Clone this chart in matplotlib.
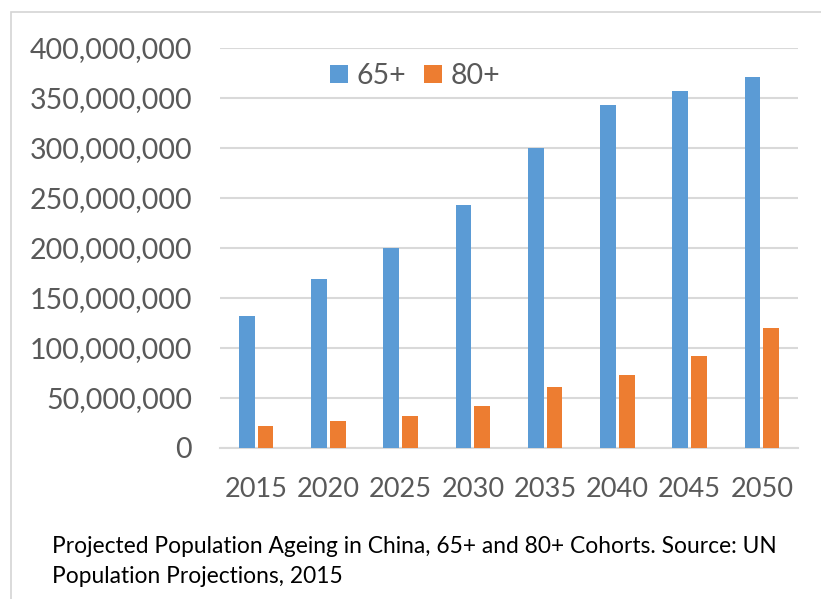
import matplotlib
matplotlib.use("Agg")
import matplotlib.pyplot as plt
from matplotlib.patches import Rectangle
from matplotlib.ticker import FuncFormatter
import numpy as np

years = ["2015", "2020", "2025", "2030", "2035", "2040", "2045", "2050"]
pop_65 = [132e6, 169e6, 200e6, 243e6, 300e6, 343e6, 357e6, 371e6]
pop_80 = [22e6, 27e6, 32e6, 42e6, 61e6, 73e6, 92e6, 120e6]
series_names = ["65+", "80+"]
y_ticks = [0, 50e6, 100e6, 150e6, 200e6, 250e6, 300e6, 350e6, 400e6]
caption_lines = ["Projected Population Ageing in China, 65+ and 80+ Cohorts. Source: UN",
                 "Population Projections, 2015"]

BLUE = "#5B9BD5"
ORANGE = "#ED7D31"
GRID = "#D9D9D9"
LABEL = "#595959"
FONT = ["Lato", "DejaVu Sans"]

W, H = 821, 599
fig = plt.figure(figsize=(W / 100, H / 100), dpi=100)
fig.patch.set_facecolor("white")

# light frame around the chart area
fig.add_artist(Rectangle((11 / W, -0.05), 1.1, 1 - 12 / H + 0.05,
                         transform=fig.transFigure, fill=False,
                         edgecolor="#D4D4D4", linewidth=1.2))

ax = fig.add_axes([220 / W, (H - 448) / H, 578 / W, 400 / H])
x = np.arange(len(years))
bw = 0.22
off = 0.13
ax.bar(x - off, pop_65, bw, color=BLUE, label=series_names[0], zorder=3)
ax.bar(x + off, pop_80, bw, color=ORANGE, label=series_names[1], zorder=3)

ax.set_xlim(-0.5, len(years) - 0.5)
ax.set_ylim(0, 400e6)
ax.set_yticks(y_ticks)
ax.yaxis.set_major_formatter(FuncFormatter(lambda v, p: f"{int(v):,}"))
ax.set_xticks(x)
ax.set_xticklabels(years)

ax.grid(axis="y", color=GRID, linewidth=1.5, zorder=0)
ax.set_axisbelow(True)
for s in ["top", "right", "left"]:
    ax.spines[s].set_visible(False)
ax.spines["bottom"].set_color(GRID)
ax.spines["bottom"].set_linewidth(1.5)
ax.tick_params(axis="both", length=0, colors=LABEL, labelsize=20.5)
ax.tick_params(axis="y", pad=20)
ax.tick_params(axis="x", pad=21, labelsize=19.5)
for lab in ax.get_xticklabels() + ax.get_yticklabels():
    lab.set_family(FONT)

leg = ax.legend(loc="center", bbox_to_anchor=(415 / W, 1 - 76 / H),
                bbox_transform=fig.transFigure, ncol=2, frameon=False,
                handlelength=0.62, handleheight=0.62, handletextpad=0.3,
                columnspacing=0.65, borderpad=0, prop={"family": FONT, "size": 20.5})
for t in leg.get_texts():
    t.set_color(LABEL)

for i, line in enumerate(caption_lines):
    fig.text(52 / W, 1 - (553 + 30 * i) / H, line, ha="left", va="baseline",
             family=FONT, fontsize=16.4, color="black")

fig.savefig("out.png", dpi=100)
